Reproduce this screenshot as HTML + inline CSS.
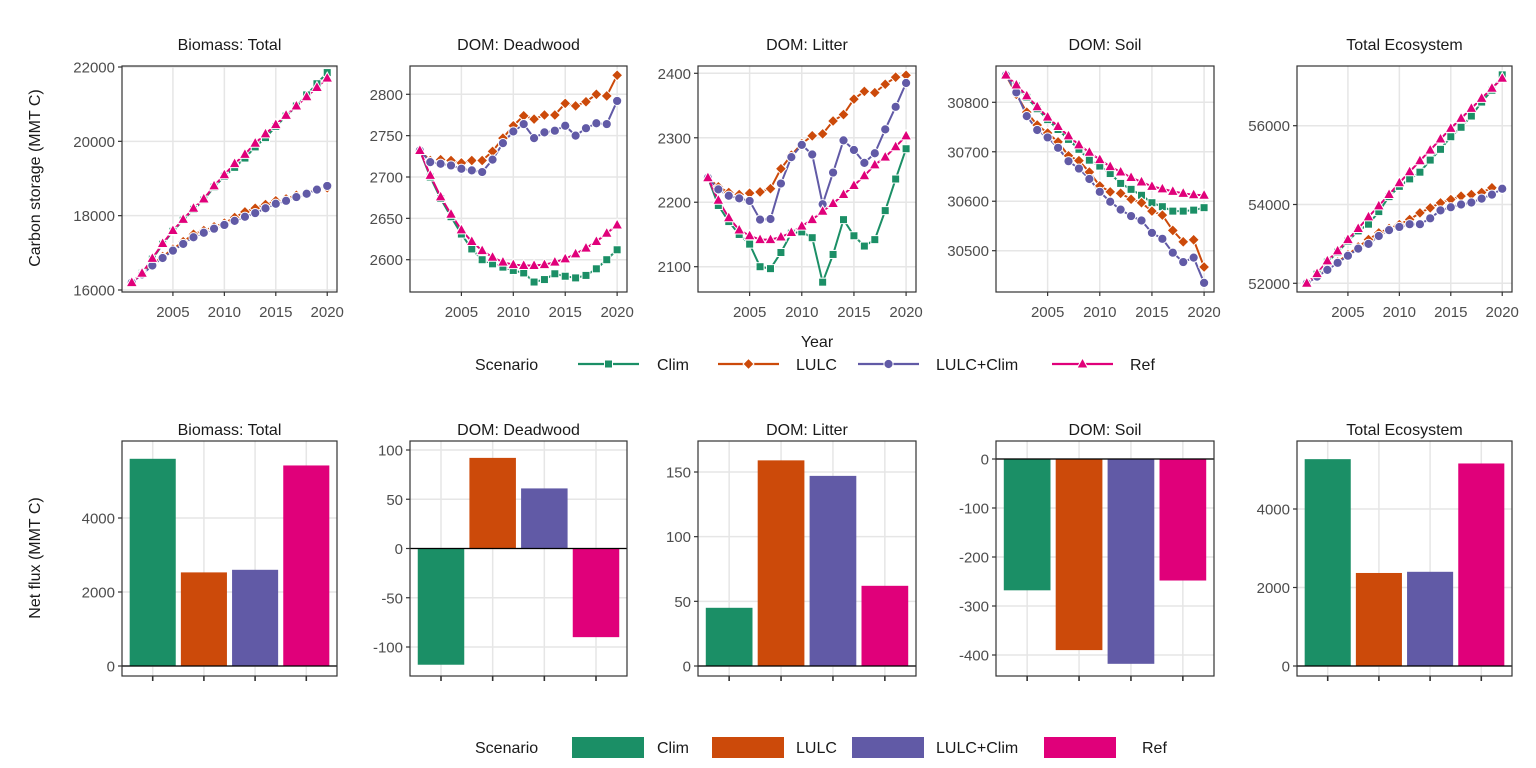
<!DOCTYPE html>
<html><head><meta charset="utf-8">
<style>
html,body{margin:0;padding:0;background:#fff;}
svg{display:block;font-family:"Liberation Sans Narrow","Liberation Sans",sans-serif;}
</style></head>
<body>
<svg id="chart" width="1536" height="768" viewBox="0 0 1536 768" xmlns="http://www.w3.org/2000/svg"></svg>
<script>
const years = [2001,2002,2003,2004,2005,2006,2007,2008,2009,2010,2011,2012,2013,2014,2015,2016,2017,2018,2019,2020];
const scenarios = ["Clim","LULC","LULC+Clim","Ref"];
const colors = ["#1b8f66","#cc4a0a","#615aa6","#e0007a"];
const panelTitles = ["Biomass: Total","DOM: Deadwood","DOM: Litter","DOM: Soil","Total Ecosystem"];

const biomassClim = [16200,16450,16830,17230,17580,17880,18170,18420,18770,19060,19300,19550,19850,20100,20400,20680,20950,21250,21550,21850];
const biomassLULC = [16200,16450,16700,16900,17100,17300,17500,17600,17700,17800,17950,18100,18200,18300,18400,18450,18550,18600,18700,18750];
const biomassLULCClim = [16200,16420,16660,16860,17060,17240,17420,17540,17650,17750,17860,17970,18070,18200,18320,18400,18500,18590,18700,18800];
const biomassRef = [16200,16450,16850,17250,17600,17900,18200,18450,18800,19100,19400,19650,19950,20200,20450,20700,20950,21200,21450,21700];

const deadwoodClim = [2732,2700,2674,2652,2631,2613,2600,2595,2591,2587,2584,2573,2576,2583,2580,2578,2581,2589,2600,2612];
const deadwoodLULC = [2732,2720,2721,2720,2717,2720,2720,2731,2747,2762,2774,2770,2775,2775,2789,2786,2791,2800,2798,2823];
const deadwoodLULCClim = [2732,2718,2716,2714,2710,2708,2706,2721,2741,2755,2764,2747,2754,2756,2762,2750,2759,2765,2764,2792];
const deadwoodRef = [2732,2702,2676,2655,2636,2622,2611,2603,2597,2594,2593,2593,2594,2597,2601,2607,2614,2622,2632,2642];

const litterClim = [2238,2195,2170,2150,2135,2100,2097,2122,2152,2154,2145,2076,2119,2173,2148,2132,2142,2187,2236,2283];
const litterLULC = [2238,2224,2215,2212,2214,2216,2221,2252,2273,2291,2303,2306,2326,2336,2360,2372,2370,2383,2394,2397];
const litterLULCClim = [2238,2220,2210,2206,2202,2173,2174,2229,2270,2289,2274,2197,2246,2296,2281,2261,2276,2313,2348,2385];
const litterRef = [2238,2203,2176,2157,2148,2142,2142,2146,2153,2163,2173,2186,2198,2212,2226,2241,2258,2270,2286,2303];

const soilClim = [30855,30833,30810,30787,30765,30745,30725,30705,30683,30671,30656,30636,30624,30612,30597,30589,30580,30580,30582,30587];
const soilLULC = [30855,30816,30780,30754,30738,30720,30692,30682,30659,30631,30619,30616,30604,30597,30580,30572,30541,30518,30522,30467];
const soilLULCClim = [30855,30820,30772,30744,30729,30708,30681,30666,30645,30619,30599,30583,30570,30561,30536,30524,30496,30477,30486,30435];
const soilRef = [30855,30835,30813,30791,30770,30751,30732,30714,30699,30684,30670,30659,30648,30639,30630,30625,30620,30616,30613,30612];

const totalClim = [52000,52230,52540,52790,53070,53330,53500,53820,54200,54460,54650,54820,55127,55400,55720,55960,56245,56600,56900,57290];
const totalLULC = [52000,52178,52356,52542,52729,52924,53110,53280,53390,53491,53619,53788,53915,54042,54127,54212,54254,54305,54424,54407];
const totalLULCClim = [52000,52170,52340,52520,52700,52880,53000,53200,53350,53430,53500,53500,53650,53850,53930,54000,54050,54150,54250,54400];
const totalRef = [52000,52245,52568,52822,53110,53390,53686,53966,54254,54551,54830,55110,55381,55661,55932,56186,56440,56695,56950,57203];

const fluxBiomass = [5600,2530,2600,5420];
const fluxDeadwood = [-118,92,61,-90];
const fluxLitter = [45,159,147,62];
const fluxSoil = [-268,-390,-418,-248];
const fluxTotal = [5270,2370,2400,5160];

const xTickYears = [2005,2010,2015,2020];
const topTicks0 = [16000,18000,20000,22000];
const topTicks1 = [2600,2650,2700,2750,2800];
const topTicks2 = [2100,2200,2300,2400];
const topTicks3 = [30500,30600,30700,30800];
const topTicks4 = [52000,54000,56000];
const botTicks0 = [0,2000,4000];
const botTicks1 = [-100,-50,0,50,100];
const botTicks2 = [0,50,100,150];
const botTicks3 = [-400,-300,-200,-100,0];
const botTicks4 = [0,2000,4000];

const NS = "http://www.w3.org/2000/svg";
const svg = document.getElementById("chart");
const GRID = "#e6e6e6";
function mk(tag, attrs, parent, text){
  const e = document.createElementNS(NS, tag);
  for (const k in attrs) e.setAttribute(k, attrs[k]);
  if (text !== undefined) e.textContent = text;
  (parent||svg).appendChild(e);
  return e;
}
function lin(d0,d1,r0,r1){ return v => r0 + (v-d0)/(d1-d0)*(r1-r0); }

const px = [[122,337],[410,627],[698,916],[996,1214],[1297,1512]];
const topY = [66,292];
const botY = [441,676];
const topDomains = [[16000,22000],[2600,2800],[2100,2400],[30500,30800],[52000,56000]];
const topRanges = [[290,67],[259.7,94.3],[266.7,73.3],[250.7,102.3],[283.3,125.7]];
const topSeries = [
 [biomassClim,biomassLULC,biomassLULCClim,biomassRef],
 [deadwoodClim,deadwoodLULC,deadwoodLULCClim,deadwoodRef],
 [litterClim,litterLULC,litterLULCClim,litterRef],
 [soilClim,soilLULC,soilLULCClim,soilRef],
 [totalClim,totalLULC,totalLULCClim,totalRef]];
const topTicks = [topTicks0,topTicks1,topTicks2,topTicks3,topTicks4];
const botDomains = [[0,4000],[-100,100],[0,150],[-400,0],[0,4000]];
const botRanges = [[666,518],[647,450],[666,472],[655,459],[666,509]];
const botTicks = [botTicks0,botTicks1,botTicks2,botTicks3,botTicks4];
const fluxes = [fluxBiomass,fluxDeadwood,fluxLitter,fluxSoil,fluxTotal];

function marker(g, shape, x, y, col){
  let m;
  if (shape===0) m = mk("rect",{x:x-4,y:y-4,width:8,height:8,fill:col,stroke:"#fff","stroke-width":1},g);
  else if (shape===1) m = mk("polygon",{points:`${x},${y-5.5} ${x+5.5},${y} ${x},${y+5.5} ${x-5.5},${y}`,fill:col,stroke:"#fff","stroke-width":1},g);
  else if (shape===2) m = mk("circle",{cx:x,cy:y,r:4.6,fill:col,stroke:"#fff","stroke-width":1},g);
  else m = mk("polygon",{points:`${x},${y-6} ${x+5.5},${y+4} ${x-5.5},${y+4}`,fill:col,stroke:"#fff","stroke-width":1},g);
  return m;
}

for (let p=0;p<5;p++){
  const g = mk("g",{});
  
  
  const [x0,x1] = px[p];
  const xs = lin(2000.05,2020.95,x0,x1);
  const ys = lin(topDomains[p][0],topDomains[p][1],topRanges[p][0],topRanges[p][1]);
  mk("rect",{x:x0,y:topY[0],width:x1-x0,height:topY[1]-topY[0],fill:"#fff"},g);
  xTickYears.forEach(t=>{
    mk("line",{x1:xs(t),x2:xs(t),y1:topY[0],y2:topY[1],stroke:GRID,"stroke-width":1.5},g);
  });
  topTicks[p].forEach(t=>{
    mk("line",{x1:x0,x2:x1,y1:ys(t),y2:ys(t),stroke:GRID,"stroke-width":1.5},g);
  });
  const title = mk("text",{x:(x0+x1)/2,y:50,"text-anchor":"middle","font-size":16,fill:"#1a1a1a"},g,panelTitles[p]);
  
  
  for (let s=0;s<4;s++){
    const vals = topSeries[p][s];
    const pts = years.map((yr,i)=>xs(yr)+","+ys(vals[i])).join(" ");
    const ln = mk("polyline",{points:pts,fill:"none",stroke:colors[s],"stroke-width":2},g);
    
    
  }
  for (let s=0;s<4;s++){
    const vals = topSeries[p][s];
    years.forEach((yr,i)=>{
      const m = marker(g,s,xs(yr),ys(vals[i]),colors[s]);
      
      
    });
  }
  mk("rect",{x:x0,y:topY[0],width:x1-x0,height:topY[1]-topY[0],fill:"none",stroke:"#333","stroke-width":1.2},g);
  xTickYears.forEach(t=>{
    mk("line",{x1:xs(t),x2:xs(t),y1:topY[1],y2:topY[1]+4,stroke:"#333","stroke-width":1.2},g);
    const tl = mk("text",{x:xs(t),y:topY[1]+25,"text-anchor":"middle","font-size":15,fill:"#4d4d4d"},g,String(t));
    
    
  });
  topTicks[p].forEach(t=>{
    mk("line",{x1:x0-4,x2:x0,y1:ys(t),y2:ys(t),stroke:"#333","stroke-width":1.2},g);
    const tl = mk("text",{x:x0-7,y:ys(t)+5.5,"text-anchor":"end","font-size":15,fill:"#4d4d4d"},g,String(t));
    
    
  });
}

for (let p=0;p<5;p++){
  const g = mk("g",{});
  
  
  const [x0,x1] = px[p];
  const unit = (x1-x0)/4.2;
  const xc = i => x0 + (0.6+i)*unit;
  const ys = lin(botDomains[p][0],botDomains[p][1],botRanges[p][0],botRanges[p][1]);
  mk("rect",{x:x0,y:botY[0],width:x1-x0,height:botY[1]-botY[0],fill:"#fff"},g);
  scenarios.forEach((s,i)=>mk("line",{x1:xc(i),x2:xc(i),y1:botY[0],y2:botY[1],stroke:GRID,"stroke-width":1.5},g));
  botTicks[p].forEach(t=>mk("line",{x1:x0,x2:x1,y1:ys(t),y2:ys(t),stroke:GRID,"stroke-width":1.5},g));
  const title = mk("text",{x:(x0+x1)/2,y:435,"text-anchor":"middle","font-size":16,fill:"#1a1a1a"},g,panelTitles[p]);
  
  
  fluxes[p].forEach((v,i)=>{
    const y0 = ys(0), y1 = ys(v);
    const b = mk("rect",{x:xc(i)-0.45*unit,y:Math.min(y0,y1),width:0.9*unit,height:Math.abs(y1-y0),fill:colors[i]},g);
    
    
  });
  mk("line",{x1:x0,x2:x1,y1:ys(0),y2:ys(0),stroke:"#000","stroke-width":1.2},g);
  mk("rect",{x:x0,y:botY[0],width:x1-x0,height:botY[1]-botY[0],fill:"none",stroke:"#333","stroke-width":1.2},g);
  scenarios.forEach((s,i)=>mk("line",{x1:xc(i),x2:xc(i),y1:botY[1],y2:botY[1]+5,stroke:"#333","stroke-width":1.6},g));
  botTicks[p].forEach(t=>{
    mk("line",{x1:x0-4,x2:x0,y1:ys(t),y2:ys(t),stroke:"#333","stroke-width":1.2},g);
    const tl = mk("text",{x:x0-7,y:ys(t)+5.5,"text-anchor":"end","font-size":15,fill:"#4d4d4d"},g,String(t));
    
    
  });
}
</script>
<script>
(function(){
  const svg = document.getElementById("chart");
  const NS = "http://www.w3.org/2000/svg";
  function t(x,y,str,size,extra){
    const e = document.createElementNS(NS,"text");
    e.setAttribute("x",x); e.setAttribute("y",y); e.setAttribute("font-size",size); e.setAttribute("fill","#1a1a1a");
    if (extra) for (const k in extra) e.setAttribute(k,extra[k]);
    e.textContent = str; svg.appendChild(e); return e;
  }
  let e = t(40,178,"Carbon storage (MMT C)",16,{"text-anchor":"middle",transform:"rotate(-90 40 178)"});
  
  
  e = t(40,558,"Net flux (MMT C)",16,{"text-anchor":"middle",transform:"rotate(-90 40 558)"});
  
  
  e = t(817,347,"Year",16,{"text-anchor":"middle"});
  
  

  const cols = ["#1b8f66","#cc4a0a","#615aa6","#e0007a"];
  const names = ["Clim","LULC","LULC+Clim","Ref"];
  const lineX = [578,718,858,1052];
  const textX = [657,796,936,1130];
  e = t(475,370,"Scenario",16);
  
  
  names.forEach((n,i)=>{
    const g = document.createElementNS(NS,"g");
    
    
    svg.appendChild(g);
    const l = document.createElementNS(NS,"line");
    l.setAttribute("x1",lineX[i]); l.setAttribute("x2",lineX[i]+61); l.setAttribute("y1",364); l.setAttribute("y2",364);
    l.setAttribute("stroke",cols[i]); l.setAttribute("stroke-width",2.2); g.appendChild(l);
    const cx = lineX[i]+30.5, cy = 364;
    let m;
    if (i===0){ m=document.createElementNS(NS,"rect"); m.setAttribute("x",cx-4);m.setAttribute("y",cy-4);m.setAttribute("width",8);m.setAttribute("height",8);}
    else if (i===1){ m=document.createElementNS(NS,"polygon"); m.setAttribute("points",`${cx},${cy-5.5} ${cx+5.5},${cy} ${cx},${cy+5.5} ${cx-5.5},${cy}`);}
    else if (i===2){ m=document.createElementNS(NS,"circle"); m.setAttribute("cx",cx);m.setAttribute("cy",cy);m.setAttribute("r",4.6);}
    else { m=document.createElementNS(NS,"polygon"); m.setAttribute("points",`${cx},${cy-6} ${cx+5.5},${cy+4} ${cx-5.5},${cy+4}`);}
    m.setAttribute("fill",cols[i]); m.setAttribute("stroke","#fff"); g.appendChild(m);
    const tx = document.createElementNS(NS,"text");
    tx.setAttribute("x",textX[i]); tx.setAttribute("y",370); tx.setAttribute("font-size",16); tx.setAttribute("fill","#1a1a1a");
    tx.textContent = n; g.appendChild(tx);
  });

  const rectX = [572,712,852,1044];
  const textX2 = [657,796,936,1142];
  e = t(475,753,"Scenario",16);
  
  
  names.forEach((n,i)=>{
    const g = document.createElementNS(NS,"g");
    
    
    svg.appendChild(g);
    const r = document.createElementNS(NS,"rect");
    r.setAttribute("x",rectX[i]); r.setAttribute("y",737); r.setAttribute("width",72); r.setAttribute("height",21);
    r.setAttribute("fill",cols[i]); g.appendChild(r);
    const tx = document.createElementNS(NS,"text");
    tx.setAttribute("x",textX2[i]); tx.setAttribute("y",753); tx.setAttribute("font-size",16); tx.setAttribute("fill","#1a1a1a");
    tx.textContent = n; g.appendChild(tx);
  });
})();
</script>
</body></html>
